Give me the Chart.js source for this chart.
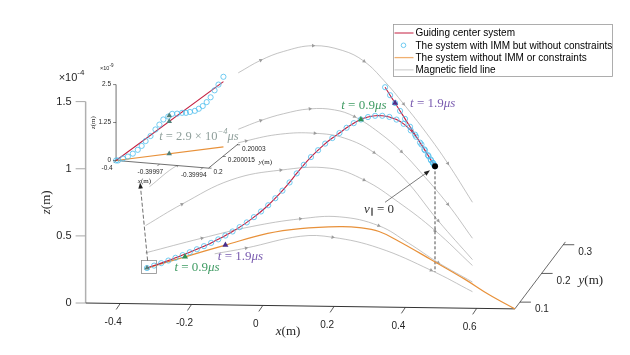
<!DOCTYPE html>
<html>
	<head>
		<meta charset="UTF-8" />
		<title>Guiding centre trajectory</title>
		<script src="https://cdn.jsdelivr.net/npm/chart.js@4.4.1/dist/chart.umd.min.js"></script>
		<style type="text/css">
			body { margin: 0; background-color: #ffffff; }
			.chartBox { width: 630px; height: 355px; }
		</style>
	</head>
	<body>
		<div class="chartBox">
			<canvas id="myChart" width="630" height="355"></canvas>
		</div>

		<script>
		// main axes: x, y in m, z in units of 1e-4 m
		const xLim = [-0.497, 0.707];
		const yLim = [0.0765, 0.31];
		const zLim = [0, 1.5];
		const xTicks = [-0.4, -0.2, 0, 0.2, 0.4, 0.6];
		const yTicks = [0.1, 0.2, 0.3];
		const zTicks = [0, 0.5, 1, 1.5];

		// guiding centre system (the IMM circles sit on the same track), y = 0.2 m
		const trajY = 0.2;
		const gcX = [-0.40, -0.38, -0.36, -0.34, -0.32, -0.30, -0.28, -0.26, -0.24, -0.22,
			-0.20, -0.18, -0.16, -0.14, -0.12, -0.10, -0.08, -0.06, -0.04, -0.02,
			0.00, 0.02, 0.04, 0.06, 0.08, 0.10, 0.12, 0.14, 0.16, 0.18,
			0.20, 0.22, 0.24, 0.26, 0.28, 0.30, 0.32, 0.34, 0.355, 0.37,
			0.38, 0.39, 0.397, 0.402, 0.406, 0.408,
			0.406, 0.402, 0.396, 0.388, 0.378, 0.366, 0.352, 0.338, 0.324, 0.310, 0.296, 0.282, 0.268];
		const gcZ = [0.000, 0.019, 0.038, 0.058, 0.079, 0.100, 0.122, 0.145, 0.169, 0.194,
			0.221, 0.250, 0.281, 0.314, 0.350, 0.390, 0.433, 0.480, 0.533, 0.590,
			0.652, 0.720, 0.785, 0.843, 0.895, 0.945, 0.987, 1.025, 1.065, 1.100,
			1.128, 1.147, 1.157, 1.158, 1.150, 1.131, 1.100, 1.052, 1.005, 0.948,
			0.905, 0.862, 0.830, 0.812, 0.797, 0.787,
			0.795, 0.812, 0.837, 0.870, 0.912, 0.962, 1.021, 1.079, 1.137, 1.196, 1.254, 1.312, 1.371];

		// system without IMM or constraints
		const noImmX = [-0.4, -0.2855, -0.164, -0.0366, 0.0612, 0.1798, 0.239, 0.2983, 0.3575, 0.4553, 0.556, 0.630, 0.707];
		const noImmY = [0.2, 0.1872, 0.1737, 0.1595, 0.1485, 0.1353, 0.1287, 0.1221, 0.1155, 0.1046, 0.0934, 0.0851, 0.0765];
		const noImmZ = [0, 0.115, 0.236, 0.358, 0.421, 0.468, 0.477, 0.464, 0.408, 0.297, 0.18, 0.084, 0];

		// time markers: [guiding centre, without IMM]
		const t09X = [0.20, -0.2855], t09Y = [0.2, 0.1872], t09Z = [1.128, 0.115];
		const t19X = [0.296, -0.164], t19Y = [0.2, 0.1737], t19Z = [1.254, 0.236];
		const mirrorX = 0.408, mirrorY = 0.2, mirrorZ = 0.787;

		// magnetic field lines, y = 0.2 m
		const fieldY = 0.2;
		const fieldX = [
			[-0.144, -0.081, -0.017, 0.066, 0.149, 0.209, 0.265, 0.320, 0.384, 0.444, 0.513],
			[-0.144, -0.081, -0.017, 0.057, 0.126, 0.182, 0.250, 0.314, 0.370, 0.444, 0.513],
			[-0.393, -0.315, -0.219, -0.122, -0.025, 0.071, 0.154, 0.237, 0.320, 0.417, 0.513],
			[-0.404, -0.302, -0.164, -0.025, 0.113, 0.209, 0.306, 0.408, 0.513],
			[-0.404, -0.246, -0.108, 0.030, 0.140, 0.250, 0.334, 0.417, 0.513],
			[-0.210, -0.122, 0.030, 0.121, 0.250, 0.397, 0.513]
		];
		const fieldZ = [
			[1.463, 1.559, 1.627, 1.673, 1.640, 1.562, 1.420, 1.248, 1.033, 0.810, 0.523],
			[1.043, 1.110, 1.163, 1.202, 1.197, 1.149, 1.035, 0.893, 0.735, 0.506, 0.255],
			[0.606, 0.768, 0.880, 0.957, 1.011, 1.021, 0.988, 0.883, 0.697, 0.382, 0.096],
			[0.316, 0.479, 0.665, 0.743, 0.762, 0.678, 0.515, 0.309, 0.052],
			[0.113, 0.228, 0.319, 0.382, 0.401, 0.339, 0.212, 0.070, -0.071],
			[0.113, 0.159, 0.252, 0.248, 0.173, 0.012, -0.143]
		];

		// inset axes: z in units of 1e-9 m
		const insXLim = [-0.4, -0.399936];
		const insYLim = [0.2, 0.200031];
		const insZLim = [0, 2.5];
		const insXTicks = [-0.4, -0.39997, -0.39994];
		const insXTickText = ['-0.4', '-0.39997', '-0.39994'];
		const insYTicks = [0.2, 0.200015, 0.20003];
		const insYTickText = ['0.2', '0.200015', '0.20003'];
		const insZTicks = [0, 1.25, 2.5];

		const insGcX = [-0.4, -0.39992568], insGcZ = [0, 2.89];
		const insNoImmX = [-0.4, -0.39992568], insNoImmZ = [0, 0.74];
		const insImmX = [-0.4, -0.39999864, -0.39999523, -0.39999182, -0.39998841, -0.399985, -0.39998227,
			-0.39997955, -0.39997614, -0.39997273, -0.39997, -0.39996727, -0.39996386, -0.39996114,
			-0.39995773, -0.39995432, -0.39995159, -0.39994886, -0.39994545, -0.39994273, -0.39994,
			-0.39993727, -0.39993455, -0.39993182, -0.39992909, -0.39992568];
		const insImmZ = [0, 0.005, 0.083, 0.16, 0.27, 0.41, 0.55, 0.72, 0.90, 1.13, 1.30, 1.48, 1.59,
			1.69, 1.71, 1.75, 1.76, 1.80, 1.85, 1.93, 2.03, 2.17, 2.34, 2.58, 2.78, 3.05];
		// t = 2.9e-4 us markers: [IMM, guiding centre, without IMM]
		const t029X = [-0.3999632, -0.3999632, -0.3999632], t029Z = [1.62, 1.43, 0.37];

		const W = 630, H = 355;
		const SANS = '"Liberation Sans", Arial, sans-serif';
		const SERIF = '"Liberation Serif", "Times New Roman", serif';
		const RED = '#c41f40', CYAN = '#4dbeee', ORANGE = '#e8913a', GREY = '#a9a9a9';

		// view of the main box
		function proj(x, y, z) {
			const u = y - yLim[0];
			return { x: 262 + 362 * x + 220 * u, y: 309 + 5 * x - 295 * u - 138 * z };
		}
		// view of the inset box
		function projIns(x, y, z) {
			const dx = (x - insXLim[0]) * 1e5, dy = (y - insYLim[0]) * 1e5;
			return { x: 113 + 14.667 * dx + 9.667 * dy, y: 160 + 1.233 * dx - 8 * dy - 31.2 * z };
		}
		function pts(xs, ys, zs, p) {
			return xs.map((x, i) => p(x, Array.isArray(ys) ? ys[i] : ys, zs[i]));
		}

		const datasets = [];
		function add(d) {
			datasets.push(Object.assign({ showLine: true, pointRadius: 0, borderWidth: 1, fill: false, tension: 0, clip: false }, d));
		}

		//field lines, arrowheads on every other sample
		fieldX.forEach((xs, k) => add({
			data: pts(xs, fieldY, fieldZ[k], proj),
			borderColor: GREY, borderWidth: 0.7, tension: 0.4,
			pointStyle: 'triangle',
			pointRadius: c => (c.dataIndex % 2 === 1 ? 2.2 : 0),
			pointBackgroundColor: '#9c9c9c', pointBorderWidth: 0,
			pointRotation: c => {
				const d = c.dataset.data, i = c.dataIndex;
				const a = d[Math.max(i - 1, 0)], b = d[Math.min(i + 1, d.length - 1)];
				return Math.atan2(b.y - a.y, b.x - a.x) * 180 / Math.PI + 90;
			}
		}));

		// axes
		add({ data: [proj(xLim[0], yLim[0], zLim[0]), proj(xLim[0], yLim[0], zLim[1])], borderColor: '#b0b0b0', borderWidth: 1.5 });
		add({ data: [proj(xLim[0], yLim[0], 0), proj(xLim[1], yLim[0], 0)], borderColor: '#333333', borderWidth: 1 });
		add({ data: [proj(xLim[1], yLim[0], 0), proj(xLim[1], yLim[1], 0)], borderColor: '#444444', borderWidth: 0.8 });

		// v_par = 0 drop line
		add({ data: [proj(mirrorX, mirrorY, mirrorZ), proj(mirrorX, mirrorY, 0)], borderColor: '#222222', borderWidth: 0.8, borderDash: [3, 2] });

		add({ data: pts(noImmX, noImmY, noImmZ, proj), borderColor: ORANGE, borderWidth: 1.2, tension: 0.4 });
		add({ data: pts(gcX, trajY, gcZ, proj), borderColor: RED, borderWidth: 1.1, tension: 0.2 });
		add({ data: pts(gcX, trajY, gcZ, proj), showLine: false, pointRadius: 2.6, pointBorderWidth: 0.8,
			pointBorderColor: CYAN, pointBackgroundColor: 'rgba(0,0,0,0)' });

		add({ data: [proj(-0.4, 0.2, 0)], showLine: false, pointStyle: 'triangle', pointRadius: 3, pointBackgroundColor: '#4f7f78', pointBorderWidth: 0 });
		add({ data: pts(t09X, t09Y, t09Z, proj), showLine: false, pointStyle: 'triangle', pointRadius: 3.5, pointBackgroundColor: '#2f8f55', pointBorderWidth: 0 });
		add({ data: pts(t19X, t19Y, t19Z, proj), showLine: false, pointStyle: 'triangle', pointRadius: 3.5, pointBackgroundColor: '#4a2d8a', pointBorderWidth: 0 });
		add({ data: [proj(mirrorX, mirrorY, mirrorZ)], showLine: false, pointRadius: 3, pointBackgroundColor: '#000000', pointBorderWidth: 0 });

		// inset: back planes hide what lies behind
		const ib = [
			projIns(insXLim[0], insYLim[0], 0), projIns(insXLim[1], insYLim[0], 0), projIns(insXLim[1], insYLim[1], 0),
			projIns(insXLim[1], insYLim[1], insZLim[1]), projIns(insXLim[0], insYLim[1], insZLim[1]), projIns(insXLim[0], insYLim[0], insZLim[1])
		];
		add({ data: ib, fill: 'shape', backgroundColor: '#ffffff', borderColor: 'rgba(0,0,0,0)', borderWidth: 0 });
		add({ data: [projIns(insXLim[0], insYLim[0], 0), projIns(insXLim[0], insYLim[0], insZLim[1])], borderColor: '#333333', borderWidth: 0.7 });
		add({ data: [projIns(insXLim[0], insYLim[0], 0), projIns(insXLim[1], insYLim[0], 0)], borderColor: '#333333', borderWidth: 0.7 });
		add({ data: [projIns(insXLim[1], insYLim[0], 0), projIns(insXLim[1], insYLim[1], 0)], borderColor: '#333333', borderWidth: 0.7 });
		add({ data: pts(insNoImmX, trajY, insNoImmZ, projIns), borderColor: ORANGE, borderWidth: 1.2 });
		add({ data: pts(insGcX, trajY, insGcZ, projIns), borderColor: RED, borderWidth: 1.1 });
		add({ data: pts(insImmX, trajY, insImmZ, projIns), showLine: false, pointRadius: 2.6, pointBorderWidth: 0.8,
			pointBorderColor: CYAN, pointBackgroundColor: 'rgba(0,0,0,0)' });
		add({ data: pts(t029X, trajY, t029Z, projIns), showLine: false, pointStyle: 'triangle', pointRadius: 3.2, pointBackgroundColor: '#4f7f78', pointBorderWidth: 0 });

		datasets.forEach((d, i) => { d.order = -i; });

		function rich(ctx, parts, x, y, align) {
			let w = 0;
			parts.forEach(p => { ctx.font = p.f; w += ctx.measureText(p.t).width; });
			let cx = align === 'center' ? x - w / 2 : (align === 'right' ? x - w : x);
			ctx.textAlign = 'left';
			parts.forEach(p => { ctx.font = p.f; ctx.fillText(p.t, cx, y + (p.dy || 0)); cx += ctx.measureText(p.t).width; });
		}
		const it = s => 'italic ' + s + 'px ' + SERIF;
		const rm = s => s + 'px ' + SERIF;
		const tLabel = num => [{ t: 't', f: it(13) }, { t: ' = ' + num, f: rm(13) }, { t: 'μs', f: it(13) }];

		const textPlugin = {
			id: 'textPlugin',
			afterDraw(chart) {
				const ctx = chart.ctx;
				const sx = chart.scales.x, sy = chart.scales.y;
				const P = q => ({ x: sx.getPixelForValue(q.x), y: sy.getPixelForValue(q.y) });
				const seg = (x1, y1, x2, y2) => { ctx.beginPath(); ctx.moveTo(x1, y1); ctx.lineTo(x2, y2); ctx.stroke(); };
				const arrow = (x1, y1, x2, y2, dash) => {
					const a = Math.atan2(y2 - y1, x2 - x1), L = 6, hw = 2.3;
					ctx.setLineDash(dash || []);
					seg(x1, y1, x2 - L * Math.cos(a), y2 - L * Math.sin(a));
					ctx.setLineDash([]);
					ctx.beginPath(); ctx.moveTo(x2, y2);
					ctx.lineTo(x2 - L * Math.cos(a) + hw * Math.sin(a), y2 - L * Math.sin(a) - hw * Math.cos(a));
					ctx.lineTo(x2 - L * Math.cos(a) - hw * Math.sin(a), y2 - L * Math.sin(a) + hw * Math.cos(a));
					ctx.closePath(); ctx.fill();
				};
				ctx.save();
				ctx.textBaseline = 'middle';

				// z axis ticks
				ctx.strokeStyle = '#a8a8a8'; ctx.lineWidth = 1; ctx.fillStyle = '#262626';
				zTicks.forEach(z => {
					const p = P(proj(xLim[0], yLim[0], z));
					seg(p.x - 10, p.y, p.x, p.y);
					ctx.font = '11px ' + SANS; ctx.textAlign = 'right';
					ctx.fillText(String(z), p.x - 14, p.y);
				});
				const zTop = P(proj(xLim[0], yLim[0], zLim[1]));
				rich(ctx, [{ t: '×10', f: '11px ' + SANS }, { t: '-4', f: '8px ' + SANS, dy: -5 }], zTop.x - 27, zTop.y - 24, 'left');
				const zBot = P(proj(xLim[0], yLim[0], zLim[0]));
				ctx.save();
				ctx.translate(zBot.x - 39, (zTop.y + zBot.y) / 2);
				ctx.rotate(-Math.PI / 2);
				rich(ctx, [{ t: 'z', f: it(13) }, { t: '(m)', f: rm(13) }], 0, 0, 'center');
				ctx.restore();

				// x axis ticks
				ctx.strokeStyle = '#333333'; ctx.lineWidth = 0.8;
				xTicks.forEach(x => {
					const p = P(proj(x, yLim[0], 0));
					seg(p.x, p.y, p.x - 4, p.y + 6);
					ctx.font = '10px ' + SANS; ctx.textAlign = 'center';
					ctx.fillText(String(x), p.x - 7, p.y + 19);
				});
				const x0 = P(proj(0, yLim[0], 0));
				rich(ctx, [{ t: 'x', f: it(13) }, { t: '(m)', f: rm(13) }], x0.x + 13, x0.y + 26, 'left');

				// y axis ticks
				yTicks.forEach(y => {
					const p = P(proj(xLim[1], y, 0));
					seg(p.x, p.y, p.x + 11, p.y);
					ctx.font = '10px ' + SANS; ctx.textAlign = 'left';
					ctx.fillText(String(y), p.x + 15, p.y + 7.5);
				});
				const y2 = P(proj(xLim[1], 0.2, 0));
				rich(ctx, [{ t: 'y', f: it(13) }, { t: '(m)', f: rm(13) }], y2.x + 37, y2.y + 7.5, 'left');

				// time labels
				const g9 = P(proj(t09X[0], t09Y[0], t09Z[0])), o9 = P(proj(t09X[1], t09Y[1], t09Z[1]));
				const g19 = P(proj(t19X[0], t19Y[0], t19Z[0])), o19 = P(proj(t19X[1], t19Y[1], t19Z[1]));
				ctx.fillStyle = '#3f9b63';
				rich(ctx, tLabel('0.9'), g9.x + 3, g9.y - 14, 'center');
				rich(ctx, tLabel('0.9'), o9.x + 12, o9.y + 11, 'center');
				ctx.fillStyle = '#7a5cb0';
				rich(ctx, tLabel('1.9'), g19.x + 15, g19.y + 1, 'left');
				rich(ctx, tLabel('1.9'), o19.x + 15, o19.y + 12, 'center');

				// v_par = 0 annotation
				const m = P(proj(mirrorX, mirrorY, mirrorZ));
				ctx.strokeStyle = '#444444'; ctx.fillStyle = '#222222'; ctx.lineWidth = 0.7;
				arrow(m.x - 50, m.y + 36, m.x - 5, m.y + 4);
				ctx.fillStyle = '#333333';
				rich(ctx, [{ t: 'v', f: it(13) }, { t: '∥', f: rm(8), dy: 3 }, { t: ' = 0', f: rm(13) }], m.x - 56, m.y + 43, 'center');

				// zoom box and dashed arrow to the inset
				const s = P(proj(gcX[0], trajY, gcZ[0]));
				ctx.strokeStyle = '#8c8c8c'; ctx.lineWidth = 0.8;
				ctx.strokeRect(s.x - 5.4, s.y - 7.6, 15, 13);
				const io = P(projIns(insXLim[0], insYLim[0], 0));
				ctx.strokeStyle = '#333333'; ctx.fillStyle = '#222222'; ctx.lineWidth = 0.7;
				arrow(s.x + 0.6, s.y - 7.6, io.x + 24, io.y + 22, [4, 2]);

				// inset ticks and labels
				ctx.strokeStyle = '#333333'; ctx.lineWidth = 0.6; ctx.fillStyle = '#262626';
				ctx.font = '6.5px ' + SANS;
				insZTicks.forEach(z => {
					const p = P(projIns(insXLim[0], insYLim[0], z));
					seg(p.x - 3, p.y, p.x, p.y);
					ctx.textAlign = 'right'; ctx.fillText(String(z), p.x - 5, p.y);
				});
				insXTicks.forEach((x, i) => {
					const p = P(projIns(x, insYLim[0], 0));
					seg(p.x, p.y, p.x - 2, p.y + 2);
					ctx.textAlign = 'center'; ctx.fillText(insXTickText[i], p.x - 9, p.y + 8);
				});
				insYTicks.forEach((y, i) => {
					const p = P(projIns(insXLim[1], y, 0));
					seg(p.x, p.y, p.x + 3, p.y);
					ctx.textAlign = 'left'; ctx.fillText(insYTickText[i], p.x + 5, p.y + 4);
				});
				const iz = P(projIns(insXLim[0], insYLim[0], insZLim[1]));
				rich(ctx, [{ t: '×10', f: '5.5px ' + SANS }, { t: '-9', f: '4.5px ' + SANS, dy: -2.5 }], iz.x - 16, iz.y - 16, 'left');
				ctx.save();
				ctx.translate(iz.x - 23, (iz.y + io.y) / 2);
				ctx.rotate(-Math.PI / 2);
				rich(ctx, [{ t: 'z', f: it(7) }, { t: '(m)', f: rm(7) }], 0, 0, 'center');
				ctx.restore();
				const ix = P(projIns(insXTicks[1], insYLim[0], 0));
				rich(ctx, [{ t: 'x', f: it(7) }, { t: '(m)', f: rm(7) }], ix.x - 15, ix.y + 17, 'center');
				const iy = P(projIns(insXLim[1], insYTicks[1], 0));
				rich(ctx, [{ t: 'y', f: it(7) }, { t: '(m)', f: rm(7) }], iy.x + 36, iy.y + 6, 'left');
				const it3 = P(projIns(t029X[1], trajY, t029Z[1]));
				ctx.fillStyle = '#8f9f9b';
				rich(ctx, [{ t: 't', f: it(12.5) }, { t: ' = 2.9 × 10', f: rm(12.5) }, { t: '−4', f: it(8.5), dy: -5 },
					{ t: 'μs', f: it(12.5) }], it3.x - 10, it3.y + 15, 'left');

				// legend
				const lx = 393.5, ly = 24.5;
				ctx.fillStyle = '#ffffff'; ctx.strokeStyle = '#9a9a9a'; ctx.lineWidth = 0.8;
				ctx.fillRect(lx, ly, 219, 52); ctx.strokeRect(lx, ly, 219, 52);
				const rows = ['Guiding center system', 'The system with IMM but without constraints',
					'The system without IMM or constraints', 'Magnetic field line'];
				const cols = [RED, CYAN, '#f0b070', '#c8c8c8'];
				rows.forEach((r, i) => {
					const ry = ly + 8.5 + i * 12.3;
					ctx.strokeStyle = cols[i];
					if (i === 1) {
						ctx.lineWidth = 0.8;
						ctx.beginPath(); ctx.arc(lx + 10, ry, 2.3, 0, Math.PI * 2); ctx.stroke();
					} else {
						ctx.lineWidth = i === 2 ? 1.3 : 1;
						seg(lx + 1, ry, lx + 20, ry);
					}
					ctx.fillStyle = '#000000'; ctx.font = '10px ' + SANS; ctx.textAlign = 'left';
					ctx.fillText(r, lx + 22, ry + 0.5);
				});
				ctx.restore();
			}
		};

		const ctx = document.getElementById('myChart').getContext('2d');
		const myChart = new Chart(ctx, {
			type: 'scatter',
			data: { datasets: datasets },
			options: {
				responsive: false,
				animation: false,
				layout: { padding: 0 },
				plugins: { legend: { display: false }, tooltip: { enabled: false } },
				scales: {
					x: { type: 'linear', min: 0, max: W, display: false },
					y: { type: 'linear', min: 0, max: H, reverse: true, display: false }
				}
			},
			plugins: [textPlugin]
		});
		</script>
	</body>
</html>
